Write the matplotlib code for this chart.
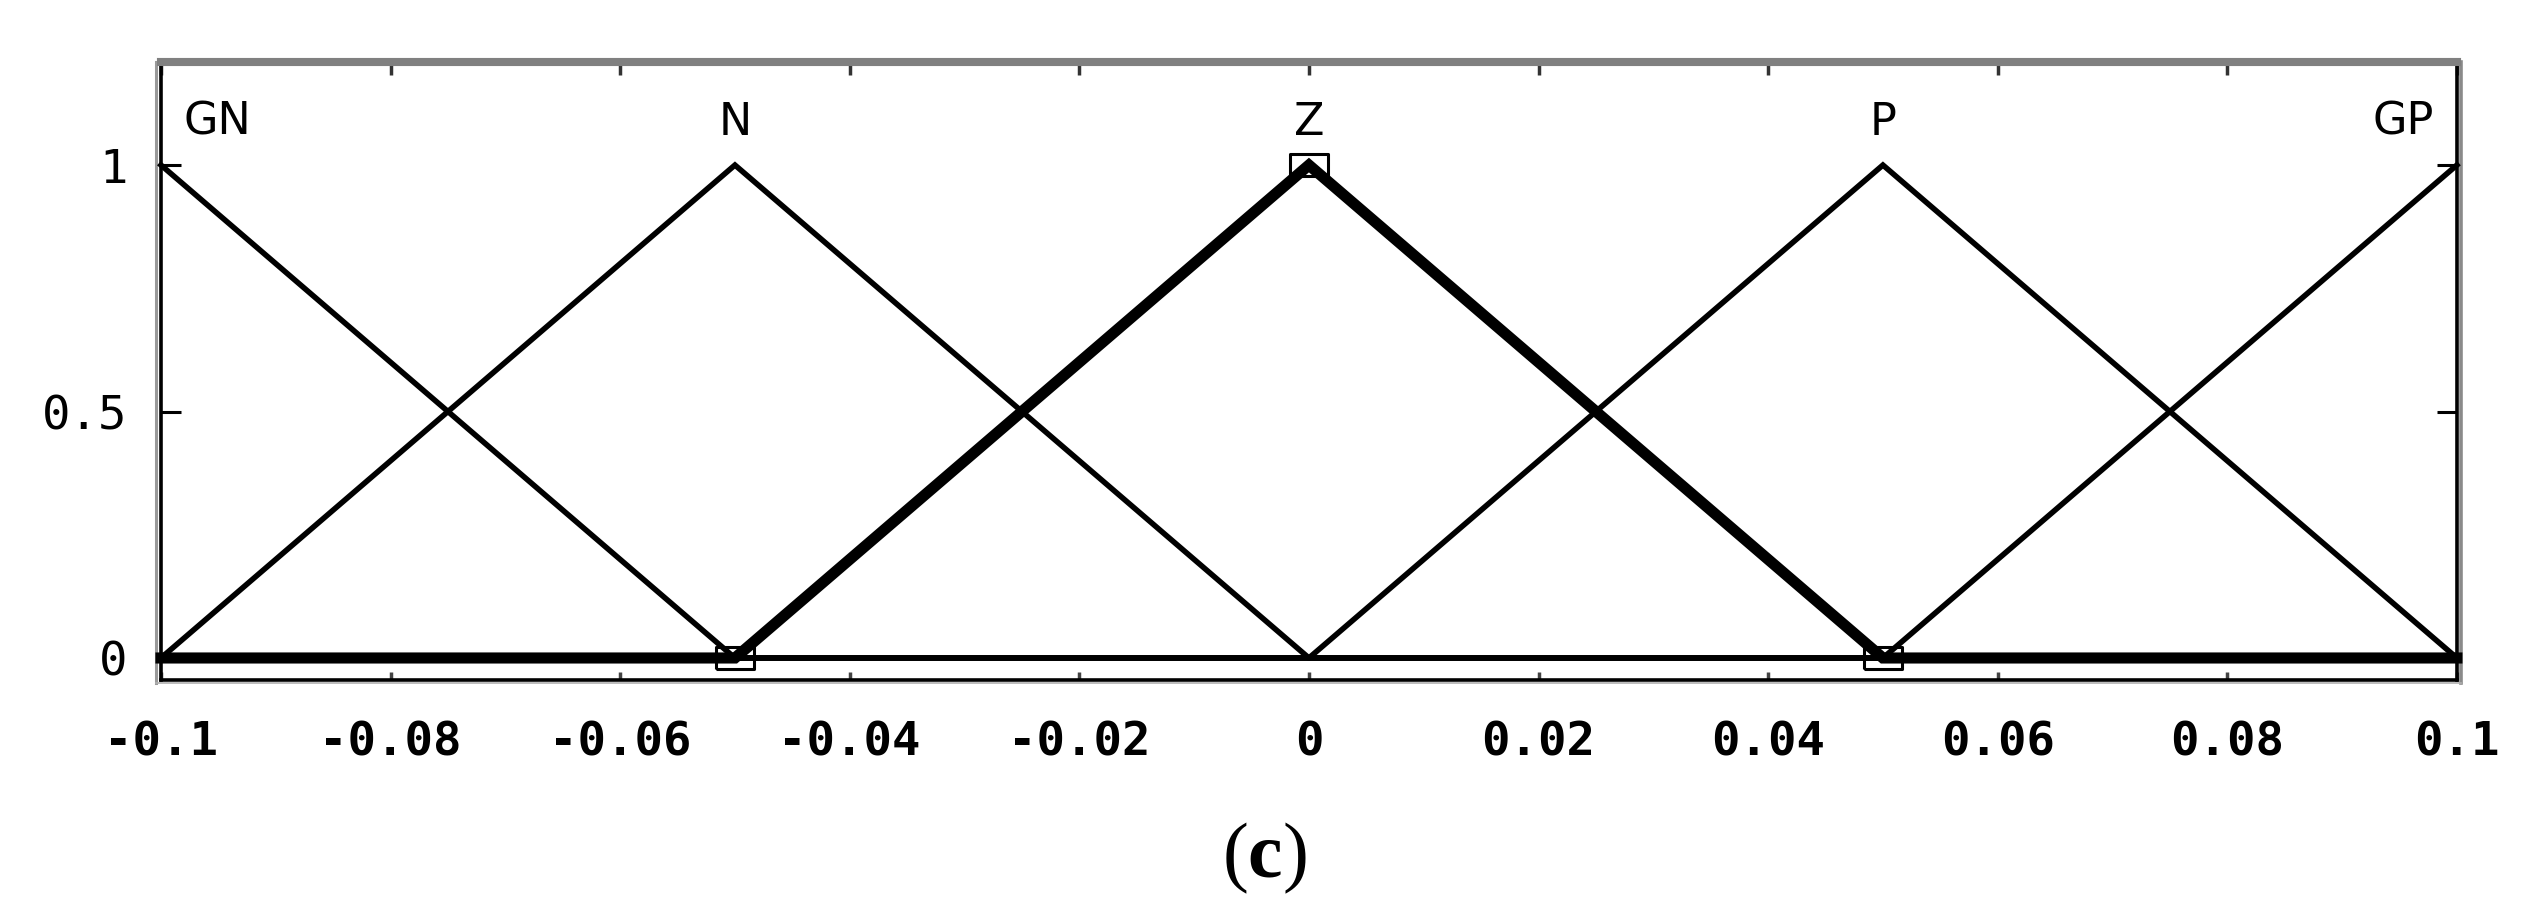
import matplotlib
matplotlib.use("Agg")
import matplotlib.pyplot as plt
from matplotlib.lines import Line2D

# ---- data ----
x_points = [-0.1, -0.05, 0.0, 0.05, 0.1]
mf_names = ["GN", "N", "Z", "P", "GP"]
mf_GN = [1, 0, 0, 0, 0]
mf_N = [0, 1, 0, 0, 0]
mf_Z = [0, 0, 1, 0, 0]
mf_P = [0, 0, 0, 1, 0]
mf_GP = [0, 0, 0, 0, 1]
selected_mf = "Z"
xticks = [-0.1, -0.08, -0.06, -0.04, -0.02, 0, 0.02, 0.04, 0.06, 0.08, 0.1]
xtick_labels = ["-0.1", "-0.08", "-0.06", "-0.04", "-0.02", "0",
                "0.02", "0.04", "0.06", "0.08", "0.1"]
yticks = [0, 0.5, 1]
ytick_labels = ["0", "0.5", "1"]
label_x = [-0.098, -0.05, 0.0, 0.05, 0.098]
label_ha = ["left", "center", "center", "center", "right"]
caption = "(" + r"$\mathbf{c}$" + ")"

plt.rcParams["mathtext.fontset"] = "custom"
plt.rcParams["mathtext.bf"] = "Liberation Serif:bold"
plt.rcParams["mathtext.rm"] = "Liberation Serif"

DPI = 100
fig = plt.figure(figsize=(25.23, 9.19), dpi=DPI)
ax = fig.add_axes([0.0638, 0.2601, 0.9100, 0.6724])

series = [mf_GN, mf_N, mf_Z, mf_P, mf_GP]
thin = 4.0
thick = 8.0
for name, ys in zip(mf_names, series):
    if name == selected_mf:
        continue
    ax.plot(x_points, ys, color="black", lw=thin, solid_joinstyle="miter",
            clip_on=False, zorder=3)

# selected MF: thick with vertex markers
zs = series[mf_names.index(selected_mf)]
ax.plot(x_points, zs, color="black", lw=thick, solid_joinstyle="miter",
        clip_on=False, zorder=4)
rect = [(-0.9, -0.5), (0.9, -0.5), (0.9, 0.5), (-0.9, 0.5), (-0.9, -0.5)]
vx = list(x_points[1:-1])
vy = list(zs[1:-1])
ax.plot(vx, vy, ls="none", marker=rect, markersize=28, markerfacecolor="none",
        markeredgecolor="black", markeredgewidth=2.2, clip_on=False, zorder=5)

# MF labels
for name, lx, ha in zip(mf_names, label_x, label_ha):
    ax.text(lx, 1.061, name, ha=ha, va="baseline", fontsize=32,
            family="DejaVu Sans", color="black")

ax.set_xlim(-0.1, 0.1)
ax.set_ylim(-0.0446, 1.209)

ax.set_xticks(xticks)
ax.set_xticklabels(xtick_labels, family="DejaVu Sans Mono", fontweight="bold",
                   fontsize=34)
ax.set_yticks(yticks)
ax.set_yticklabels(ytick_labels, family="DejaVu Sans Mono", fontsize=34)

ax.tick_params(axis="x", which="major", direction="in", length=6, width=2.5,
               color="#444444", pad=29, top=False, bottom=True)
ax.tick_params(axis="y", which="major", direction="in", length=14.4, width=2.2,
               color="black", pad=24, left=True, right=True)

sec = ax.secondary_xaxis("top")
sec.set_xticks(xticks)
sec.tick_params(direction="in", length=9.5, width=2.5, color="#333333",
                labeltop=False)
sec.spines["top"].set_color("#808080")
sec.spines["top"].set_linewidth(5.8)

ax.spines["top"].set_color("#808080")
ax.spines["top"].set_linewidth(5.8)
for s in ["left", "right", "bottom"]:
    ax.spines[s].set_color("black")
    ax.spines[s].set_linewidth(2.6)

# faint gray outer edges of the frame
ax_w = 0.9100 * 25.23 * DPI
ax_h = 0.6724 * 9.19 * DPI
dxl = 4.5 / ax_w
dyb = 3.0 / ax_h
ax.add_line(Line2D([-dxl, -dxl], [-dyb, 1], transform=ax.transAxes,
                   color="#9a9a9a", lw=2.2, clip_on=False))
ax.add_line(Line2D([1 + dxl, 1 + dxl], [-dyb, 1], transform=ax.transAxes,
                   color="#8a8a8a", lw=2.6, clip_on=False))
ax.add_line(Line2D([-dxl, 1 + dxl], [-dyb, -dyb], transform=ax.transAxes,
                   color="#b0b0b0", lw=1.2, clip_on=False))

fig.text(0.501, 0.066, caption, ha="center", va="center", fontsize=56,
         family="Liberation Serif")

fig.savefig("out.png", dpi=DPI, facecolor="white")
